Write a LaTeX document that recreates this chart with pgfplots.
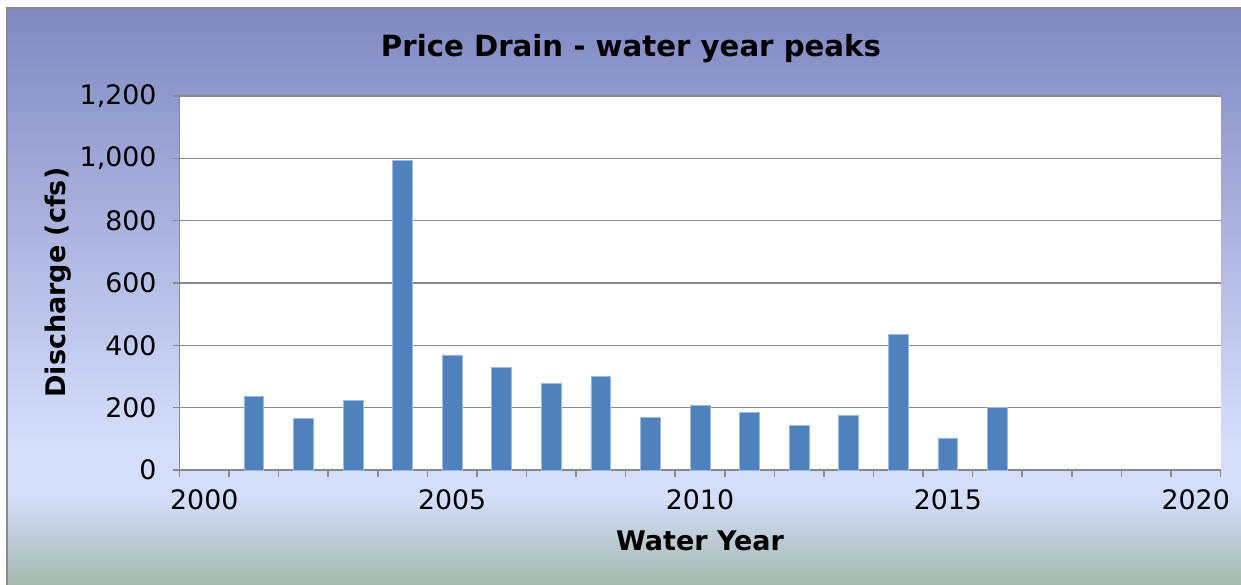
\documentclass[border=0pt]{standalone}
\usepackage{pgfplots}
\pgfplotsset{compat=1.18}
\usepackage{fontspec}
\setmainfont{DejaVu Sans}
\definecolor{bgtop}{RGB}{128,136,193}
\definecolor{bglight}{RGB}{212,222,251}
\definecolor{bgbot}{RGB}{155,176,156}
\definecolor{barblue}{RGB}{79,129,189}
\definecolor{baredge}{RGB}{160,185,222}
\definecolor{axgray}{RGB}{137,137,137}
\pgfdeclareverticalshading{chartbg}{100bp}{color(0bp)=(bgbot); color(25bp)=(bgbot); color(34bp)=(bglight); color(38.5bp)=(bglight); color(75bp)=(bgtop); color(100bp)=(bgtop)}
\begin{document}
\begin{tikzpicture}
\clip (0,0) rectangle (620.5pt,292pt);
\shade[shading=chartbg] (3.5pt,-10pt) rectangle (640pt,288pt);
\draw[axgray, line width=1pt] (3.5pt,-10pt) -- (3.5pt,288pt) -- (640pt,288pt);
\begin{axis}[
  at={(89.75pt,57pt)}, anchor=south west,
  scale only axis, width=520.5pt, height=187pt,
  xmin=-0.5, xmax=20.5, ymin=0, ymax=1200,
  enlargelimits=false,
  axis x line*=bottom, axis y line*=left,
  axis line style={axgray, line width=0.75pt, -},
  axis background/.style={fill=white},
  ymajorgrids, grid style={axgray, line width=0.75pt},
  tick align=outside, major tick length=3.5pt,
  tick style={axgray, line width=0.75pt},
  xtick={-0.5,0.5,...,20.5},
  xticklabels={2000,,,,,2005,,,,,2010,,,,,2015,,,,,2020,},
  xticklabel style={xshift=12.393pt, yshift=-3pt},
  ytick={0,200,...,1200},
  /pgf/number format/1000 sep={,},
  /pgf/number format/assume math mode=true,
  ticklabel style={font=\fontsize{13.4}{16}\selectfont, text=black},
  yticklabel style={xshift=-4.5pt},
  title={Price Drain - water year peaks},
  title style={font=\bfseries\fontsize{14.6}{17}\selectfont, at={(axis description cs:0.4337,1.096)}, anchor=center, yshift=0pt},
  xlabel={Water Year},
  xlabel style={font=\bfseries\fontsize{13.5}{16}\selectfont, at={(axis description cs:0.5,-0.19)}, anchor=center},
  ylabel={Discharge (cfs)},
  ylabel style={font=\bfseries\fontsize{13.5}{16}\selectfont, at={(axis description cs:-0.1167,0.501)}, anchor=center, rotate=0},
  ybar, bar width=0.4,
]
\addplot[fill=barblue, draw=baredge, line width=0.4pt] coordinates {
(1,237) (2,165) (3,222) (4,993) (5,369) (6,328) (7,277) (8,299)
(9,170) (10,207) (11,186) (12,142) (13,176) (14,435) (15,103) (16,201)
};
\end{axis}
\end{tikzpicture}
\end{document}
